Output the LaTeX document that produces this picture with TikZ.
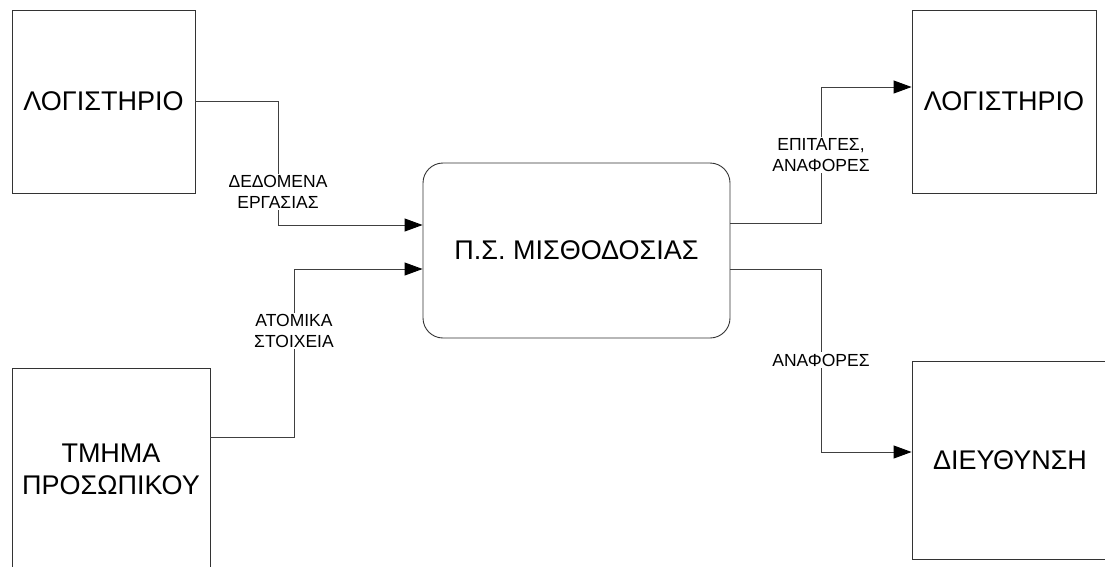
\documentclass[tikz,border=0pt]{standalone}
\usepackage{fontspec}
\setmainfont{Liberation Sans}
\usepackage{tikz}
\usetikzlibrary{arrows.meta}

\begin{document}
\begin{tikzpicture}[x=1pt, y=-1pt,
		entity/.style={draw=black!80, line width=0.9pt, inner sep=0pt, align=center, font=\fontsize{27}{32}\selectfont},
		process/.style={entity, rounded corners=20pt},
		flow/.style={draw=black!75, line width=0.9pt, -{Triangle[length=18pt,width=13pt,color=black]}},
		lbl/.style={fill=white, inner sep=1.5pt, align=center, font=\fontsize{17.5}{21}\selectfont}]
			\useasboundingbox (0,0) rectangle (1105,566);
			\clip (0,0) rectangle (1105,566);
			
			% external entities
			\node[entity, minimum width=183pt, minimum height=183pt] (acc1) at (103.5,101.5) {ΛΟΓΙΣΤΗΡΙΟ};
			\node[entity, minimum width=198pt, minimum height=202pt] (pers) at (111,469) {ΤΜΗΜΑ\\ΠΡΟΣΩΠΙΚΟΥ};
			\node[entity, minimum width=184pt, minimum height=183pt] (acc2) at (1004,101.5) {ΛΟΓΙΣΤΗΡΙΟ};
			\node[entity, minimum width=196pt, minimum height=198pt] (dir) at (1010,460) {ΔΙΕΥΘΥΝΣΗ};
			
			% process
			\node[process, minimum width=307pt, minimum height=175pt] (sys) at (576.5,250.5) {Π.Σ. ΜΙΣΘΟΔΟΣΙΑΣ};
			
			% inputs
			\draw[flow] (acc1.east) -| (278,225) -- ([yshift=25.5pt]sys.west);
			\draw[flow] ([yshift=32pt]pers.east) -| (294,269) -- ([yshift=-18.5pt]sys.west);
			
			% outputs
			\draw[flow] ([yshift=27.5pt]sys.east) -| (821,87) -- ([yshift=14.5pt]acc2.west);
			\draw[flow] ([yshift=-18.5pt]sys.east) -| (821,452) -- ([yshift=8pt]dir.west);
			
			% flow labels
			\node[lbl] (work) at (278,192) {ΔΕΔΟΜΕΝΑ\\ΕΡΓΑΣΙΑΣ};
			\node[lbl] (data) at (294,331) {ΑΤΟΜΙΚΑ\\ΣΤΟΙΧΕΙΑ};
			\node[lbl] (cheq) at (821,155) {ΕΠΙΤΑΓΕΣ,\\ΑΝΑΦΟΡΕΣ};
			\node[lbl] (rep) at (821,360) {ΑΝΑΦΟΡΕΣ};
\end{tikzpicture}
\end{document}
